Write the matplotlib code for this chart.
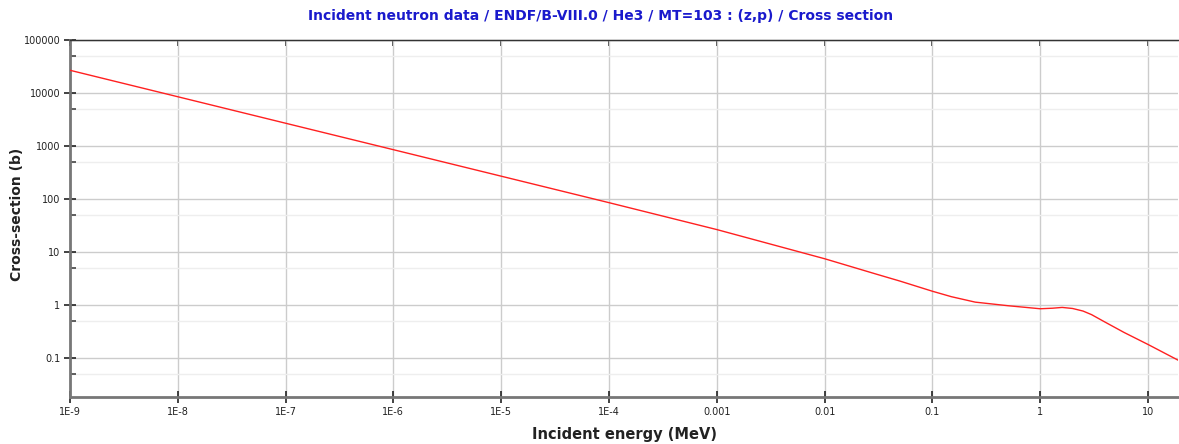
import numpy as np
import matplotlib
matplotlib.use("Agg")
import matplotlib.pyplot as plt
from matplotlib.ticker import FixedLocator, FixedFormatter

# energy (MeV) and cross-section (b)
energy = [1e-9, 1e-8, 1e-7, 1e-6, 1e-5, 1e-4, 1e-3, 1e-2, 3e-2, 0.05, 0.1,
          0.15, 0.25, 0.5, 1.0, 1.3, 1.6, 2.0, 2.5, 3.0, 4.0, 6.0, 10.0, 19.0]
xs = [26800, 8480, 2680, 848, 268, 84.7, 26.3, 7.4, 3.8, 2.8, 1.8,
      1.42, 1.12, 0.96, 0.84, 0.86, 0.89, 0.85, 0.76, 0.65, 0.47, 0.3, 0.178, 0.09]

xticks = [1e-9, 1e-8, 1e-7, 1e-6, 1e-5, 1e-4, 1e-3, 1e-2, 0.1, 1, 10]
xlabels = ["1E-9", "1E-8", "1E-7", "1E-6", "1E-5", "1E-4", "0.001", "0.01", "0.1", "1", "10"]
yticks = [0.1, 1, 10, 100, 1000, 10000, 100000]
ylabels = ["0.1", "1", "10", "100", "1000", "10000", "100000"]
yminor = [0.05, 0.5, 5, 50, 500, 5000, 50000]

fig = plt.figure(figsize=(11.79, 4.44), dpi=100)
ax = fig.add_axes([70/1179, 1-397/444, 1108/1179, 357/444])

ax.plot(energy, xs, color="#ff2020", lw=1.0, zorder=3)
ax.set_xscale("log")
ax.set_yscale("log")
ax.set_xlim(1e-9, 19)
ax.set_ylim(0.0181, 1e5)

ax.xaxis.set_major_locator(FixedLocator(xticks))
ax.xaxis.set_major_formatter(FixedFormatter(xlabels))
ax.xaxis.set_minor_locator(FixedLocator([]))
ax.yaxis.set_major_locator(FixedLocator(yticks))
ax.yaxis.set_major_formatter(FixedFormatter(ylabels))
ax.yaxis.set_minor_locator(FixedLocator(yminor))
ax.yaxis.set_minor_formatter(FixedFormatter([]))

ax.grid(True, which="major", color="#cccccc", lw=1.0, zorder=0)
ax.grid(True, which="minor", axis="y", color="#eeeeee", lw=1.0, zorder=0)

ax.tick_params(axis="both", which="major", direction="inout", length=8, width=1.2,
               color="#222222", labelsize=7, labelcolor="#222222", pad=3)
ax.tick_params(axis="y", which="minor", direction="in", length=4, width=1.2, color="#444444")

# small inward ticks along the top edge
top = ax.secondary_xaxis("top")
top.xaxis.set_major_locator(FixedLocator(xticks))
top.xaxis.set_minor_locator(FixedLocator([]))
top.tick_params(direction="in", length=4, width=1.2, color="#222222", labeltop=False)
top.spines["top"].set_color("#333333")

for s in ["left", "bottom"]:
    ax.spines[s].set_color("#777777")
    ax.spines[s].set_linewidth(2)
ax.spines["top"].set_color("#333333")
ax.spines["top"].set_linewidth(1)
ax.spines["right"].set_visible(False)

fig.text(624/1179, 1-434/444, "Incident energy (MeV)", ha="center", va="center",
         fontsize=10.5, fontweight="bold", color="#222222")
fig.text(17/1179, 1-214/444, "Cross-section (b)", ha="center", va="center", rotation=90,
         fontsize=10, fontweight="bold", color="#222222")
fig.text(601/1179, 1-16/444, "Incident neutron data / ENDF/B-VIII.0 / He3 / MT=103 : (z,p) / Cross section",
         ha="center", va="center", fontsize=10, fontweight="bold", color="#1a1acc")

fig.savefig("out.png", dpi=100)
